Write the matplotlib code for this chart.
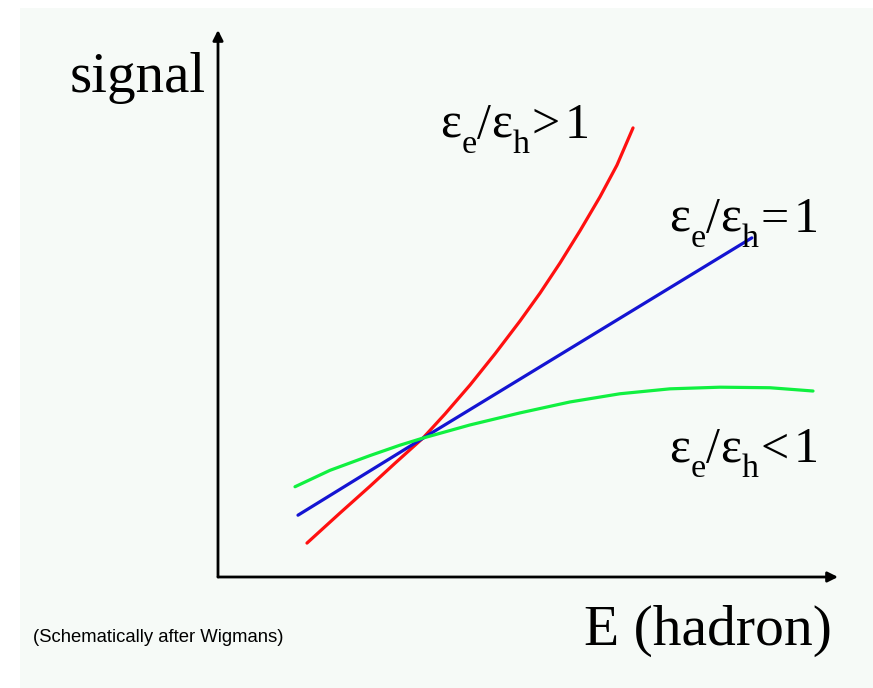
import matplotlib
matplotlib.use("Agg")
import matplotlib.pyplot as plt
from matplotlib.patches import Rectangle

# calorimeter response vs hadron energy, three e/h regimes
e_high = [1.435, 1.968, 2.452, 2.855, 3.306, 3.661, 4.065, 4.468, 4.871,
          5.194, 5.516, 5.839, 6.161, 6.435, 6.694]
s_high = [0.62, 1.17, 1.66, 2.08, 2.54, 2.98, 3.51, 4.08, 4.68,
          5.19, 5.74, 6.33, 6.95, 7.53, 8.21]

e_equal = [1.29, 3.31, 8.61]
s_equal = [1.13, 2.54, 6.20]

e_low = [1.242, 1.806, 2.452, 2.935, 3.306, 4.065, 4.871, 5.677, 6.484,
         7.290, 8.097, 8.903, 9.597]
s_low = [1.65, 1.95, 2.22, 2.41, 2.54, 2.78, 3.00, 3.20, 3.35,
         3.44, 3.47, 3.46, 3.40]

relations = [">", "=", "<"]
label_pos = [(3.58, 8.03), (7.27, 6.31), (7.27, 2.10)]

W, H = 873, 688
fig = plt.figure(figsize=(W / 100, H / 100), dpi=100)
fig.patch.set_facecolor("white")
fig.patches.append(Rectangle((20 / W, 0), 1 - 20 / W, 1 - 8 / H,
                             transform=fig.transFigure, facecolor="#f6faf7",
                             edgecolor="none", zorder=-10))

ax = fig.add_axes([218 / W, (H - 577) / H, 620 / W, 547 / H])
ax.set_xlim(0, 10)
ax.set_ylim(0, 10)
ax.axis("off")

# axes drawn as arrows
arrow = dict(arrowstyle="-|>", color="black", lw=2.0, mutation_scale=15,
             shrinkA=0, shrinkB=0)
ax.annotate("", xy=(10, 0), xytext=(0, 0), arrowprops=arrow, annotation_clip=False)
ax.annotate("", xy=(0, 10), xytext=(0, 0), arrowprops=arrow, annotation_clip=False)

ax.plot(e_high, s_high, color="#ff1010", lw=2.3, solid_capstyle="round")
ax.plot(e_equal, s_equal, color="#1414d2", lw=2.3, solid_capstyle="round")
ax.plot(e_low, s_low, color="#10f040", lw=2.3, solid_capstyle="round")

serif = "Liberation Serif"
renderer = fig.canvas.get_renderer()


def ratio_label(x, y, rel, size=36):
    # e/h ratio written piece by piece so the subscripts sit low and small
    sub = size * 0.68
    pieces = [("ε", size, 0, 1), ("e", sub, -15, 0), ("/", size, 0, 0),
              ("ε", size, 0, 1), ("h", sub, -15, 2), (rel, size, 0, 5),
              ("1", size, 0, 0)]
    dx = 0
    for s, fs, dy, pad in pieces:
        t = ax.annotate(s, xy=(x, y), xycoords="data", xytext=(dx, dy),
                        textcoords="offset pixels", family=serif, fontsize=fs,
                        va="baseline", ha="left", annotation_clip=False)
        dx += t.get_window_extent(renderer).width + pad


for rel, (x, y) in zip(relations, label_pos):
    ratio_label(x, y, rel)

ax.text(-2.39, 8.87, "signal", family=serif, fontsize=41, va="baseline",
        ha="left", clip_on=False)
ax.text(9.90, -1.24, "E (hadron)", family=serif, fontsize=41.5, va="baseline",
        ha="right", clip_on=False)
ax.text(-2.98, -1.19, "(Schematically after Wigmans)", family="Liberation Sans",
        fontsize=13.3, va="baseline", ha="left", clip_on=False)

fig.savefig("out.png", dpi=100, facecolor=fig.get_facecolor())
